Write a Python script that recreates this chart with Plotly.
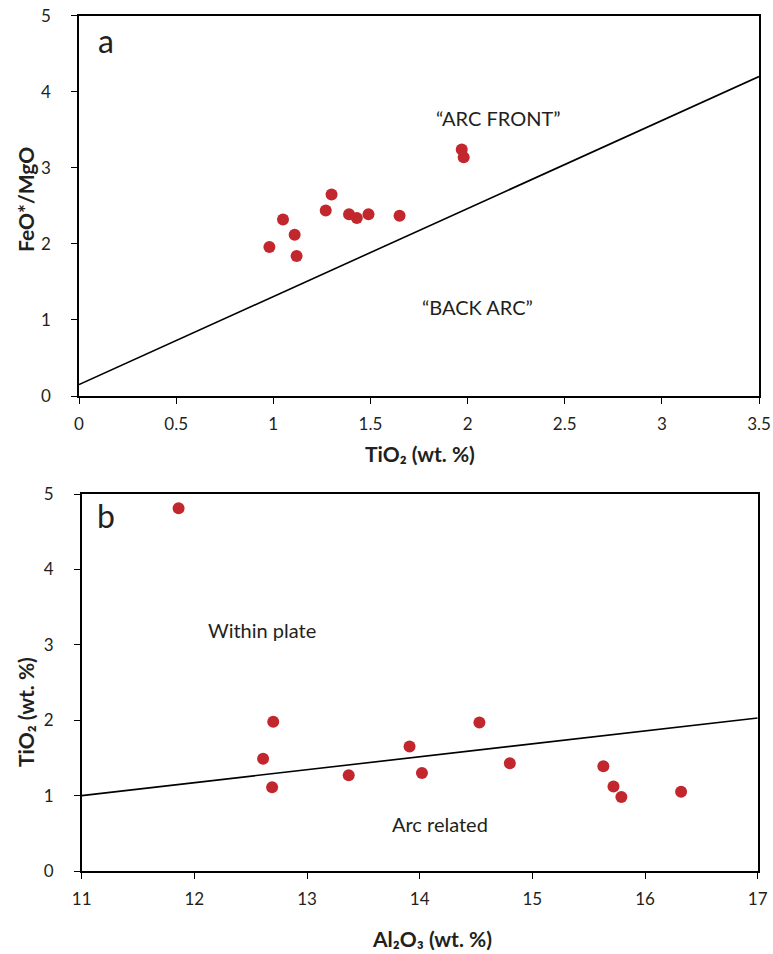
import plotly.graph_objects as go

# Panel a: TiO2 vs FeO*/MgO
a_tio2 = [0.98, 1.05, 1.11, 1.12, 1.27, 1.30, 1.39, 1.43, 1.49, 1.65, 1.97, 1.98]
a_feo_mgo = [1.96, 2.32, 2.12, 1.84, 2.44, 2.65, 2.39, 2.34, 2.39, 2.37, 3.24, 3.14]
a_line_x = [0, 3.5]
a_line_y = [0.15, 4.2]

# Panel b: Al2O3 vs TiO2
b_al2o3 = [11.86, 12.70, 12.61, 12.69, 13.37, 13.91, 14.02, 14.53, 14.80, 15.63, 15.72, 15.79, 16.32]
b_tio2 = [4.81, 1.98, 1.49, 1.11, 1.27, 1.65, 1.30, 1.97, 1.43, 1.39, 1.12, 0.98, 1.05]
b_line_x = [11, 17]
b_line_y = [1.0, 2.03]

a_xticks = [0, 0.5, 1, 1.5, 2, 2.5, 3, 3.5]
a_xticklabels = ["0", "0.5", "1", "1.5", "2", "2.5", "3", "3.5"]
yticks = [0, 1, 2, 3, 4, 5]
b_xticks = [11, 12, 13, 14, 15, 16, 17]

FONT = "Lato, 'Open Sans', sans-serif"
RED = "#C1272D"
TXT = "#231F20"
W, H = 773, 954

fig = go.Figure()
fig.add_trace(go.Scatter(x=a_line_x, y=a_line_y, mode="lines",
                         line=dict(color="black", width=1.6), xaxis="x", yaxis="y",
                         showlegend=False, hoverinfo="skip"))
fig.add_trace(go.Scatter(x=a_tio2, y=a_feo_mgo, mode="markers",
                         marker=dict(color=RED, size=12), xaxis="x", yaxis="y",
                         showlegend=False))
fig.add_trace(go.Scatter(x=b_line_x, y=b_line_y, mode="lines",
                         line=dict(color="black", width=1.6), xaxis="x2", yaxis="y2",
                         showlegend=False, hoverinfo="skip"))
fig.add_trace(go.Scatter(x=b_al2o3, y=b_tio2, mode="markers",
                         marker=dict(color=RED, size=12), xaxis="x2", yaxis="y2",
                         showlegend=False))

axis_common = dict(showgrid=False, zeroline=False, showline=True, linecolor="black",
                   linewidth=1.6, mirror=True, ticks="outside", ticklen=6,
                   tickwidth=1.4, tickcolor="black", automargin=False,
                   tickfont=dict(family=FONT, size=17, color=TXT))

fig.update_layout(
    width=W, height=H,
    margin=dict(l=0, r=0, t=0, b=0),
    paper_bgcolor="white", plot_bgcolor="white",
    xaxis=dict(domain=[79 / W, 759 / W], range=[0, 3.5], anchor="y",
               tickvals=a_xticks, ticktext=a_xticklabels, ticklabelstandoff=6,
               **axis_common),
    yaxis=dict(domain=[(H - 396) / H, (H - 15.7) / H], range=[0, 5], anchor="x",
               tickvals=yticks, ticklabelstandoff=17, **axis_common),
    xaxis2=dict(domain=[81.7 / W, 757.7 / W], range=[11, 17], anchor="y2",
                tickvals=b_xticks, ticklabelstandoff=6, **axis_common),
    yaxis2=dict(domain=[(H - 871) / H, (H - 494) / H], range=[0, 5], anchor="x2",
                tickvals=yticks, ticklabelstandoff=17, **axis_common),
)

title_font = dict(family=FONT, size=21, color=TXT)
anns = [
    dict(text="<b>FeO*/MgO</b>", x=25 / W, y=(H - 200) / H, textangle=-90),
    dict(text="<b>TiO₂ (wt. %)</b>", x=420 / W, y=(H - 453) / H, textangle=0),
    dict(text="<b>TiO₂ (wt. %)</b>", x=25 / W, y=(H - 712) / H, textangle=-90),
    dict(text="<b>Al₂O₃ (wt. %)</b>", x=432 / W, y=(H - 938) / H, textangle=0),
]
for a in anns:
    fig.add_annotation(xref="paper", yref="paper", showarrow=False,
                       xanchor="center", yanchor="middle", font=title_font, **a)

label_font = dict(family=FONT, size=20, color=TXT)
fig.add_annotation(x=0.14, y=4.68, xref="x", yref="y", text="a", showarrow=False,
                   font=dict(family=FONT, size=32, color=TXT))
fig.add_annotation(x=2.16, y=3.65, xref="x", yref="y", text="“ARC FRONT”",
                   showarrow=False, font=label_font)
fig.add_annotation(x=2.05, y=1.17, xref="x", yref="y", text="“BACK ARC”",
                   showarrow=False, font=label_font)
fig.add_annotation(x=11.22, y=4.72, xref="x2", yref="y2", text="b", showarrow=False,
                   font=dict(family=FONT, size=32, color=TXT))
fig.add_annotation(x=12.6, y=3.2, xref="x2", yref="y2", text="Within plate",
                   showarrow=False, font=label_font)
fig.add_annotation(x=14.18, y=0.62, xref="x2", yref="y2", text="Arc related",
                   showarrow=False, font=label_font)

fig.write_html("out.html")
